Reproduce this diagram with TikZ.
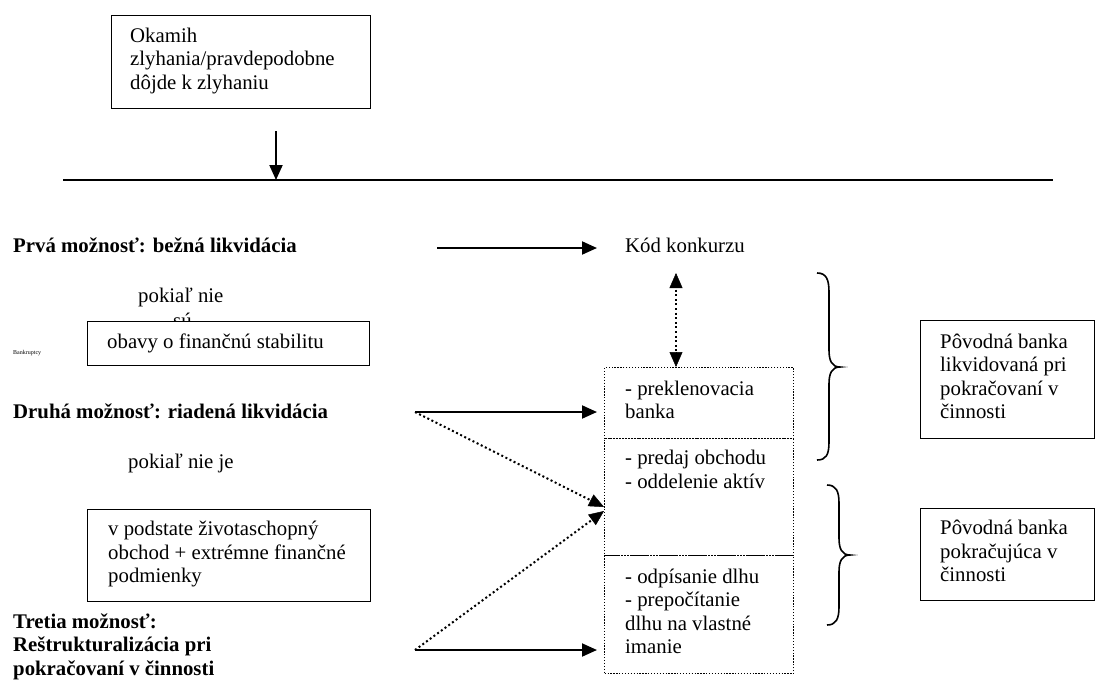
\documentclass[tikz,border=0pt]{standalone}
\usepackage{fontspec}
\setmainfont{Liberation Serif}
\usetikzlibrary{arrows.meta,calc}
\begin{document}
\begin{tikzpicture}[x=1pt,y=-1pt,
  every node/.style={inner sep=0pt, font=\fontsize{20.8}{23.5}\selectfont,
    execute at begin node=\strut, execute at end node=\strut},
  txt/.style={anchor=west, align=left},
  btxt/.style={anchor=west, align=left, font=\fontsize{20.8}{23.5}\selectfont\bfseries},
  sbox/.style={draw, line width=1.3, fill=white, anchor=north west},
  dbox/.style={draw, line width=1.2, dash pattern=on 1.3 off 1.6, anchor=north west},
  arr/.style={line width=2, -{Triangle[length=15,width=13]}},
  dotline/.style={line width=2, dash pattern=on 2 off 2.6},
  tip/.style={line width=0.5, -{Triangle[length=15,width=13]}},
  bracestyle/.style={line width=1.6}
]
\useasboundingbox (0,0) rectangle (1098,681);

% top box
\node[sbox, minimum width=259, minimum height=93] (top) at (111,15) {};
\node[txt] (toptxt) at ([xshift=19]top.west) {Okamih\\zlyhania/pravdepodobne\\dôjde k zlyhaniu};

% timeline
\coordinate (tA) at (276,131);
\coordinate (tB) at (276,180);
\coordinate (lineL) at (63,180);
\coordinate (lineR) at (1053,180);
\draw[line width=1.6] (lineL) -- (lineR);
\draw[arr] (tA) -- (tB);

% first option
\node[btxt] (opt1) at (13,248) {Prvá možnosť: bežná likvidácia};
\node[txt] (kod) at (625,248) {Kód konkurzu};
\coordinate (a1s) at (437,248);
\coordinate (a1e) at (597,248);
\draw[arr] (a1s) -- (a1e);

% pokial nie su
\node[txt] (pn1) at (138,298) {pokiaľ nie};
\node[txt] (su) at (173,323) {sú};
\node[txt, font=\fontsize{6}{7}\selectfont] (bank) at (13,353) {Bankruptcy};
\node[sbox, minimum width=282, minimum height=44] (obavy) at (87,321) {};
\node[txt] (obavytxt) at ([xshift=20]obavy.west) {obavy o finančnú stabilitu};

% second option
\node[btxt] (opt2) at (13,414) {Druhá možnosť: riadená likvidácia};
\node[txt] (pn2) at (128,464) {pokiaľ nie je};
\node[sbox, minimum width=283, minimum height=92] (podst) at (87,509) {};
\node[txt] (podsttxt) at ([xshift=21]podst.west) {v podstate životaschopný\\obchod + extrémne finančné\\podmienky};

% third option
\node[btxt] (opt3) at (13,648) {Tretia možnosť:\\Reštrukturalizácia pri\\pokračovaní v činnosti};

% dotted boxes
\node[dbox, minimum width=189, minimum height=71] (d1) at (604,367) {};
\node[txt] (d1txt) at ([xshift=21]d1.west) {- preklenovacia\\banka};
\node[dbox, minimum width=189, minimum height=117] (d2) at (604,438) {};
\node[txt] (d2txt) at (625,473) {- predaj obchodu\\- oddelenie aktív};
\node[dbox, minimum width=189, minimum height=118] (d3) at (604,555) {};
\node[txt] (d3txt) at ([xshift=21]d3.west) {- odpísanie dlhu\\- prepočítanie\\dlhu na vlastné\\imanie};

% arrows of second and third option
\coordinate (a2s) at (415,412);
\coordinate (a2e) at (597,412);
\coordinate (a3s) at (415,650);
\coordinate (a3e) at (597,650);
\coordinate (m1) at (604,507);
\coordinate (m2) at (604,511);
\coordinate (kodB) at (676,273);
\coordinate (d1T) at (d1.north -| kodB);
\draw[arr] (a2s) -- (a2e);
\draw[arr] (a3s) -- (a3e);
\draw[dotline, shorten >=12] (a2s) -- (m1);
\draw[tip] ($(m1)!14pt!(a2s)$) -- (m1);
\draw[dotline, shorten >=12] (a3s) -- (m2);
\draw[tip] ($(m2)!14pt!(a3s)$) -- (m2);
\draw[dotline, shorten >=12, shorten <=12] (kodB) -- (d1T);
\draw[tip] ($(kodB)!14pt!(d1T)$) -- (kodB);
\draw[tip] ($(d1T)!14pt!(kodB)$) -- (d1T);

% braces
\draw[bracestyle] (817,273) .. controls (826,273) and (829,279) .. (829,292) -- (829,350)
  .. controls (829,361) and (832,367) .. (840,367)
  .. controls (832,367) and (829,373) .. (829,384) -- (829,442)
  .. controls (829,455) and (826,460) .. (817,460);
\draw[bracestyle] (827,485) .. controls (836,485) and (839,491) .. (839,503) -- (839,538)
  .. controls (839,549) and (842,555) .. (850,555)
  .. controls (842,555) and (839,561) .. (839,572) -- (839,607)
  .. controls (839,619) and (836,625) .. (827,625);

% right boxes
\node[sbox, minimum width=174, minimum height=118] (r1) at (920,320) {};
\node[txt] (r1txt) at ([xshift=20]r1.west) {Pôvodná banka\\likvidovaná pri\\pokračovaní v\\činnosti};
\node[sbox, minimum width=174, minimum height=92] (r2) at (920,508) {};
\node[txt] (r2txt) at ([xshift=20]r2.west) {Pôvodná banka\\pokračujúca v\\činnosti};
\end{tikzpicture}
\end{document}
